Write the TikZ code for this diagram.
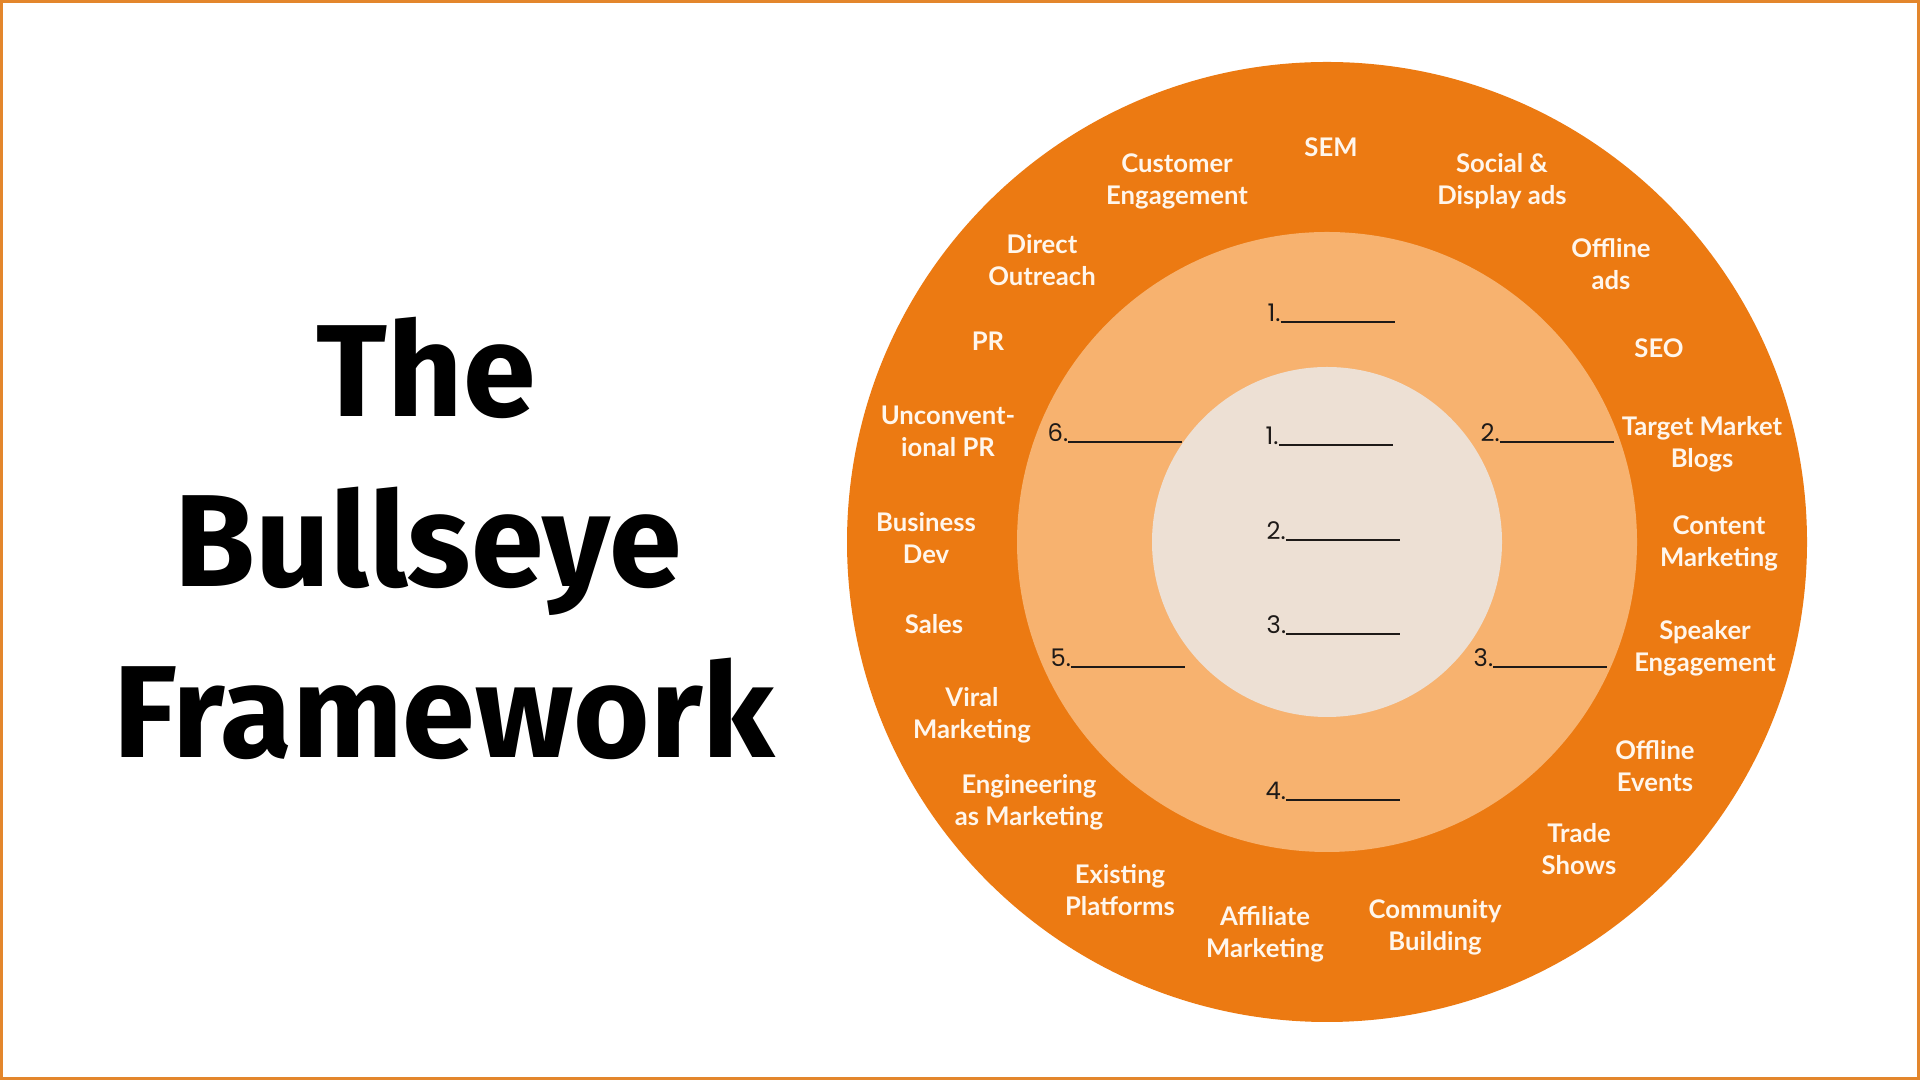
\documentclass[tikz,border=0pt]{standalone}
\usepackage{fontspec}
\setmainfont{Lato}
\newfontfamily\titlefont{Fira Sans}
\newfontfamily\blankfont{Poppins}
\usepackage{tikz}

\definecolor{frameorange}{HTML}{E3862C}
\definecolor{ringouter}{HTML}{EC7A12}
\definecolor{ringmiddle}{HTML}{F7B26F}
\definecolor{ringinner}{HTML}{EDE0D4}
\definecolor{labelwhite}{HTML}{FFF6EC}
\definecolor{blankink}{HTML}{1E1A18}

\newcommand{\blankline}{\rule[-0.25pt]{1.14cm}{0.55pt}}

\begin{document}
\begin{tikzpicture}[
	title/.style={anchor=base, inner sep=0pt, font=\titlefont\bfseries\fontsize{37.3}{44}\selectfont},
	channel/.style={align=center, inner sep=0pt, text=labelwhite, font=\bfseries\fontsize{7.3}{9.1}\selectfont},
	blank/.style={anchor=base west, inner sep=0pt, text=blankink, font=\blankfont\fontsize{6.9}{8}\selectfont}]
	\useasboundingbox (0,0) rectangle (19.2,10.8);
	\fill[white] (0,0) rectangle (19.2,10.8);
	\draw[frameorange, line width=0.03cm] (0.015,0.015) rectangle (19.185,10.785);

	% title
	\node[title] (the)       at (4.26, 6.63) {The};
	\node[title] (bullseye)  at (4.28, 4.93) {Bullseye};
	\node[title] (framework) at (4.44, 3.22) {Framework};

	% the three rings
	\coordinate (bull) at (13.27, 5.38);
	\fill[ringouter]  (bull) circle (4.80);
	\fill[ringmiddle] (bull) circle (3.10);
	\fill[ringinner]  (bull) circle (1.75);

	% outer ring: the nineteen traction channels
	\node[channel] (sem)       at (13.31, 9.33) {SEM};
	\node[channel] (social)    at (15.02, 8.99) {Social \&\\Display ads};
	\node[channel] (offads)    at (16.11, 8.16) {Offline\\ads};
	\node[channel] (seo)       at (16.59, 7.32) {SEO};
	\node[channel] (blogs)     at (17.02, 6.36) {Target Market\\Blogs};
	\node[channel] (content)   at (17.19, 5.37) {Content\\Marketing};
	\node[channel] (speaker)   at (17.05, 4.32) {Speaker\\Engagement};
	\node[channel] (offevents) at (16.55, 3.14) {Offline\\Events};
	\node[channel] (trade)     at (15.79, 2.31) {Trade\\Shows};
	\node[channel] (community) at (14.35, 1.53) {Community\\Building};
	\node[channel] (affiliate) at (12.65, 1.46) {Affiliate\\Marketing};
	\node[channel] (existing)  at (11.20, 1.90) {Existing\\Platforms};
	\node[channel] (engineer)  at (10.29, 2.78) {Engineering\\as Marketing};
	\node[channel] (viral)     at (9.72, 3.65)  {Viral\\Marketing};
	\node[channel] (sales)     at (9.34, 4.56)  {Sales};
	\node[channel] (busdev)    at (9.26, 5.42)  {Business\\Dev};
	\node[channel] (unconv)    at (9.48, 6.49)  {Unconvent-\\ional PR};
	\node[channel] (pr)        at (9.88, 7.39)  {PR};
	\node[channel] (direct)    at (10.42, 8.20) {Direct\\Outreach};
	\node[channel] (customer)  at (11.77, 8.99) {Customer\\Engagement};

	% middle ring: six blanks
	\node[blank] (mid1) at (12.67, 7.58) {1.\blankline};
	\node[blank] (mid2) at (14.80, 6.38) {2.\blankline};
	\node[blank] (mid3) at (14.73, 4.13) {3.\blankline};
	\node[blank] (mid4) at (12.65, 2.80) {4.\blankline};
	\node[blank] (mid5) at (10.50, 4.13) {5.\blankline};
	\node[blank] (mid6) at (10.47, 6.38) {6.\blankline};

	% inner circle: three blanks
	\node[blank] (in1) at (12.65, 6.35) {1.\blankline};
	\node[blank] (in2) at (12.66, 5.40) {2.\blankline};
	\node[blank] (in3) at (12.66, 4.46) {3.\blankline};
\end{tikzpicture}
\end{document}
